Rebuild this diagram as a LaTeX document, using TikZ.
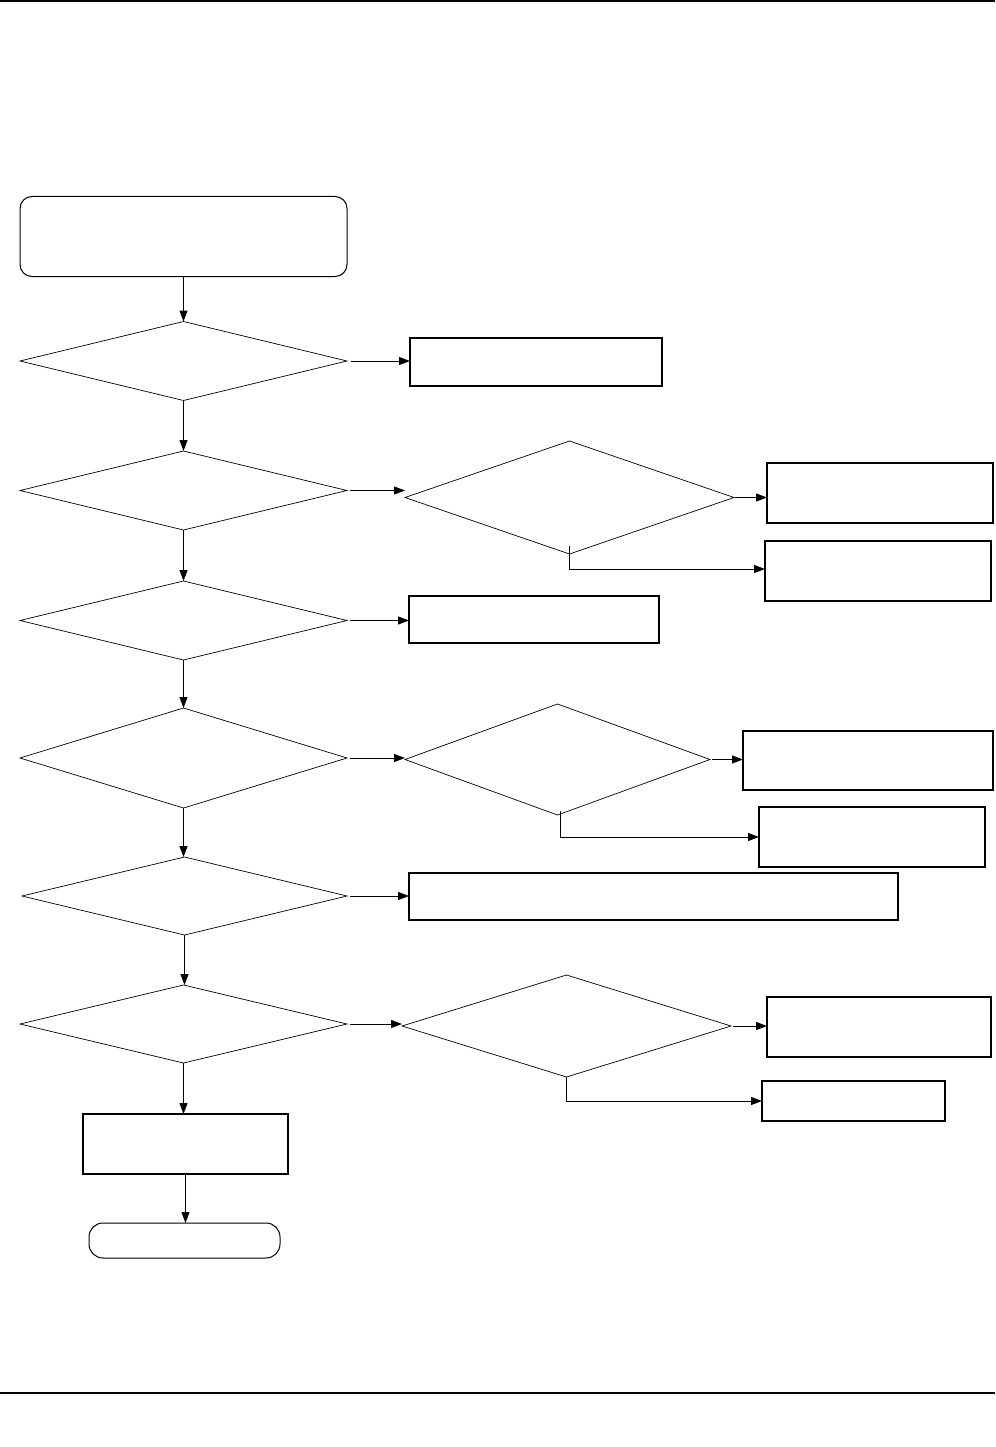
\documentclass[tikz,border=0pt]{standalone}
\usetikzlibrary{shapes.geometric,arrows.meta}
\begin{document}
\begin{tikzpicture}[x=1pt,y=-1pt,
  box/.style={draw,line width=1.1pt,rectangle,inner sep=0pt,outer sep=0pt},
  rbox/.style={draw,line width=1pt,rectangle,rounded corners=12pt,inner sep=0pt,outer sep=0pt},
  dia/.style={draw,line width=0.7pt,diamond,inner sep=0pt,outer sep=0pt},
  arr/.style={draw,line width=1pt,-{Triangle[length=11pt,width=8pt]}},
  ln/.style={draw,line width=1pt}]
\useasboundingbox (0,0) rectangle (995,1447);
\draw[line width=1.3pt] (0,1) -- (995,1);
\draw[line width=1.3pt] (0,1393) -- (995,1393);
% main column
\node[rbox,minimum width=327,minimum height=80] (start) at (183.5,236.5) {};
\node[dia,minimum width=327,minimum height=79] (d1) at (183.5,361) {};
\node[dia,minimum width=327,minimum height=79] (d2) at (183.5,490.5) {};
\node[dia,minimum width=327,minimum height=79] (d3) at (183.5,620.5) {};
\node[dia,minimum width=327,minimum height=100] (d4) at (183.5,758) {};
\node[dia,minimum width=325,minimum height=78] (d5) at (184.5,896) {};
\node[dia,minimum width=327,minimum height=78] (d6) at (183.5,1024) {};
\node[box,minimum width=205,minimum height=60] (r7) at (185.5,1144) {};
\node[rbox,rounded corners=14pt,minimum width=191,minimum height=35] (end) at (184.5,1240.5) {};
% right side
\node[box,minimum width=252,minimum height=48] (r1) at (536,362) {};
\node[dia,minimum width=329,minimum height=113] (d2b) at (569.5,497.5) {};
\node[box,minimum width=226,minimum height=60] (r2a) at (880,493) {};
\node[box,minimum width=226,minimum height=60] (r2b) at (878,571) {};
\node[box,minimum width=250,minimum height=47] (r3) at (534,619.5) {};
\node[dia,minimum width=305,minimum height=111] (d4b) at (557.5,759.5) {};
\node[box,minimum width=250,minimum height=59] (r4a) at (868,760.5) {};
\node[box,minimum width=226,minimum height=60] (r4b) at (872,837) {};
\node[box,minimum width=489,minimum height=47] (r5) at (653.5,896.5) {};
\node[dia,minimum width=329,minimum height=102] (d6b) at (566.5,1026) {};
\node[box,minimum width=224,minimum height=60] (r6a) at (879,1027) {};
\node[box,minimum width=183,minimum height=40] (r6b) at (853.5,1101) {};
% vertical connectors
\draw[arr] (start.south) -- (start.south |- d1.north);
\draw[arr] (d1.south) -- (d1.south |- d2.north);
\draw[arr] (d2.south) -- (d2.south |- d3.north);
\draw[arr] (d3.south) -- (d3.south |- d4.north);
\draw[arr] (d4.south) -- (d4.south |- d5.north);
\draw[arr] (d5.south) -- (d5.south |- d6.north);
\draw[arr] (d6.south) -- (d6.south |- r7.north);
\draw[arr] (r7.south) -- (r7.south |- end.north);
% horizontal connectors
\draw[arr,shorten <=4pt] (d1.east) -- (d1.east -| r1.west);
\draw[arr,shorten <=3pt] (d2.east) -- (d2.east -| d2b.west);
\draw[arr,shorten <=1pt] (d2b.east) -- (d2b.east -| r2a.west);
\draw[arr,shorten <=3pt] (d3.east) -- (d3.east -| r3.west);
\draw[arr,shorten <=3pt] (d4.east) -- (d4.east -| d4b.west);
\draw[arr,shorten <=2pt] (d4b.east) -- (d4b.east -| r4a.west);
\draw[arr,shorten <=3pt] (d5.east) -- (d5.east -| r5.west);
\draw[arr,shorten <=3pt] (d6.east) -- (d6.east -| d6b.west);
\draw[arr,shorten <=2pt] (d6b.east) -- (d6b.east -| r6a.west);
% branch connectors
\draw[arr] ([yshift=8pt]d2b.south) |- ([yshift=2pt]r2b.west);
\draw[arr] ([yshift=4pt,xshift=3pt]d4b.south) |- (r4b.west);
\draw[arr] (d6b.south) |- (r6b.west);
\end{tikzpicture}
\end{document}
